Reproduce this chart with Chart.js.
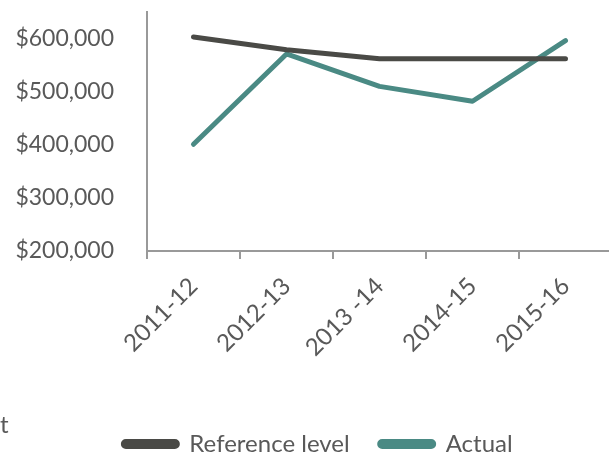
<!DOCTYPE html>
<html>
<head>
<meta charset="utf-8">
<script src="https://cdn.jsdelivr.net/npm/chart.js@4.4.1/dist/chart.umd.min.js"></script>
<style>
html,body{margin:0;padding:0;background:#fff;overflow:hidden;}
#wrap{position:relative;width:609px;height:456px;overflow:hidden;}
#box{position:absolute;left:0;top:0;width:612px;height:471px;}
#frag{position:absolute;left:0;top:409px;font:24px Lato, sans-serif;color:#595959;}
</style>
</head>
<body>
<div id="wrap">
<div id="box"><canvas id="c" width="612" height="471"></canvas></div>
<div id="frag">t</div>
</div>
<script>
const categories = ["2011-12", "2012-13", "2013 -14", "2014-15", "2015-16"];
const referenceLevel = [603000, 579000, 562000, 562000, 562000];
const actual = [401000, 571000, 510000, 482000, 596000];
const yTickValues = [200000, 300000, 400000, 500000, 600000];

const txt = '#595959';
const axisCol = '#999999';
const FONT = {family: 'Lato', size: 24};

const legendShift = {
  id: 'legendShift',
  afterLayout(chart) {
    chart.legend.left += 12;
    chart.legend.right += 12;
  }
};

new Chart(document.getElementById('c'), {
  type: 'line',
  data: {
    labels: categories,
    datasets: [
      {label: 'Reference level', data: referenceLevel, borderColor: '#4a4a46', backgroundColor: '#4a4a46', borderWidth: 5, pointRadius: 0, tension: 0, borderCapStyle: 'round', borderJoinStyle: 'round'},
      {label: 'Actual', data: actual, borderColor: '#4a8a84', backgroundColor: '#4a8a84', borderWidth: 5, pointRadius: 0, tension: 0, borderCapStyle: 'round', borderJoinStyle: 'round'}
    ]
  },
  plugins: [legendShift],
  options: {
    responsive: false,
    animation: false,
    layout: {padding: {top: 12, left: 0, right: 0, bottom: 5}},
    plugins: {
      tooltip: {enabled: false},
      legend: {
        position: 'bottom',
        labels: {
          color: txt,
          font: FONT,
          boxWidth: 54, boxHeight: 5,
          useBorderRadius: true, borderRadius: 2.5,
          padding: 30
        }
      }
    },
    scales: {
      x: {
        type: 'category',
        offset: true,
        grid: {display: true, drawOnChartArea: false, drawTicks: true, tickLength: 8, offset: true, color: axisCol, lineWidth: 2},
        border: {display: true, color: axisCol, width: 2},
        ticks: {color: txt, font: FONT, minRotation: 45, maxRotation: 45, padding: 13, autoSkip: false},
        afterFit: (s) => { s.height = 151; }
      },
      y: {
        min: 200000, max: 650000,
        grid: {display: true, drawOnChartArea: false, drawTicks: true, tickLength: 33, tickColor: 'rgba(0,0,0,0)', color: axisCol},
        border: {display: true, color: axisCol, width: 2},
        afterBuildTicks: (s) => { s.ticks = yTickValues.map(v => ({value: v})); },
        ticks: {color: txt, font: {family: 'Lato', size: 23, lineHeight: 0.9}, padding: 0,
          callback: (v) => '$' + Number(v).toLocaleString('en-US')},
        afterFit: (s) => { s.width = 147; }
      }
    }
  }
});
</script>
</body>
</html>
